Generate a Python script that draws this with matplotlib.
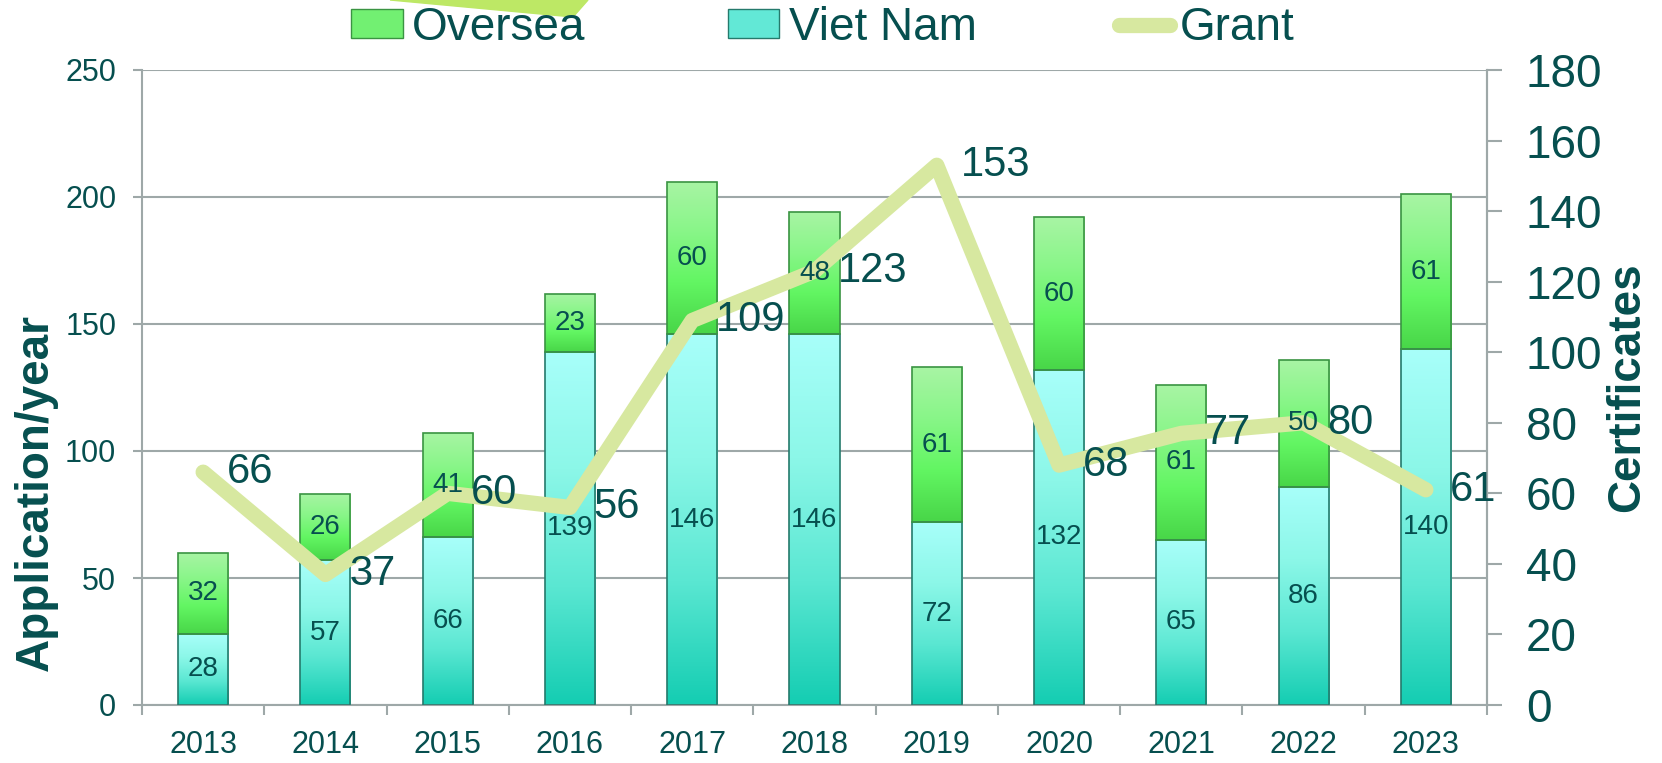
import numpy as np
import matplotlib
matplotlib.use('Agg')
import matplotlib.pyplot as plt
from matplotlib.colors import LinearSegmentedColormap
from matplotlib.patches import Patch, Polygon
from matplotlib.lines import Line2D

years = ['2013', '2014', '2015', '2016', '2017', '2018', '2019', '2020', '2021', '2022', '2023']
viet_nam = [28, 57, 66, 139, 146, 146, 72, 132, 65, 86, 140]
oversea = [32, 26, 41, 23, 60, 48, 61, 60, 61, 50, 61]
grant = [66, 37, 60, 56, 109, 123, 153, 68, 77, 80, 61]

text_color = '#064f4f'
grid_color = '#9ea8a8'
line_color = '#d7e8a0'

plt.rcParams['font.family'] = ['Liberation Sans', 'DejaVu Sans']

fig = plt.figure(figsize=(16.62, 7.63), dpi=100)

# decorative wedge at the top (slide artwork)
fig.patches.append(Polygon([(390 / 1662, 1.0), (573 / 1662, 1 - 17 / 763), (588 / 1662, 1.0)],
                           closed=True, transform=fig.transFigure, color='#bde865', zorder=0))

ax = fig.add_axes([142 / 1662, 1 - 705 / 763, 1345 / 1662, 635 / 763])
x = np.arange(len(years))
width = 0.41

vn_cmap = LinearSegmentedColormap.from_list('vn', ['#14cdb2', '#5ae7d2', '#8cf7e8', '#a8fffa'])
os_cmap = LinearSegmentedColormap.from_list('os', ['#48d648', '#62f562', '#88f688', '#a8f4a4'])

bars_vn = ax.bar(x, viet_nam, width=width, facecolor='none', edgecolor='#257a6c',
                 linewidth=1.2, zorder=3)
bars_os = ax.bar(x, oversea, width=width, bottom=viet_nam, facecolor='none',
                 edgecolor='#3a9442', linewidth=1.2, zorder=3)


def fill_gradient(axes, bars, cmap):
    grad = np.linspace(0, 1, 256).reshape(-1, 1)
    for b in bars:
        x0, y0 = b.get_x(), b.get_y()
        im = axes.imshow(grad, cmap=cmap, origin='lower', aspect='auto',
                         extent=[x0, x0 + b.get_width(), y0, y0 + b.get_height()],
                         zorder=2.5, interpolation='bicubic')
        im.set_clip_path(b)


fill_gradient(ax, bars_vn, vn_cmap)
fill_gradient(ax, bars_os, os_cmap)

ax.set_xlim(-0.5, len(years) - 0.5)
ax.set_ylim(0, 250)
ax.set_yticks(range(0, 251, 50))
ax.set_axisbelow(True)
ax.yaxis.grid(True, color=grid_color, linewidth=1.5)

ax.set_xticks(x)
ax.set_xticklabels(years)
ax.set_xticks(np.arange(-0.5, len(years), 1), minor=True)
ax.tick_params(axis='x', which='major', length=0, pad=18, labelsize=22, labelcolor=text_color)
ax.tick_params(axis='x', which='minor', length=7, width=1.5, color=grid_color)
ax.tick_params(axis='y', length=6.5, width=1.5, color=grid_color, pad=12,
               labelsize=22, labelcolor=text_color)

for side in ['left', 'right', 'bottom']:
    ax.spines[side].set_color(grid_color)
    ax.spines[side].set_linewidth(1.5)
ax.spines['top'].set_visible(False)

ax.set_ylabel('Application/year', fontsize=33, fontweight='bold', color=text_color)
ax.yaxis.set_label_coords(-0.079, 0.334)
ax.yaxis.label.set_va('center')

# right axis: granted certificates
ax2 = ax.twinx()
ax2.plot(x, grant, color=line_color, linewidth=11, solid_capstyle='round',
         solid_joinstyle='round', zorder=3)
ax2.set_ylim(0, 180)
ax2.set_yticks(range(0, 181, 20))
ax2.tick_params(axis='y', length=11, width=1.5, color=grid_color, pad=17,
                labelsize=33, labelcolor=text_color)
for side in ['left', 'top', 'bottom']:
    ax2.spines[side].set_visible(False)
ax2.spines['right'].set_color(grid_color)
ax2.spines['right'].set_linewidth(1.5)
ax2.set_ylabel('Certificates', fontsize=33, fontweight='bold', color=text_color)
ax2.yaxis.set_label_coords(1.104, 0.5)
ax2.yaxis.label.set_va('center')

for xi, v in zip(x, grant):
    ax2.annotate(str(v), (xi, v), xytext=(17, 0), textcoords='offset points',
                 ha='left', va='center', fontsize=30, color=text_color, zorder=5)

# bar value labels, drawn on the top axes so they sit above the line
for xi, vn, ov in zip(x, viet_nam, oversea):
    ax2.text(xi, vn / 2, str(vn), transform=ax.transData, ha='center', va='center',
             fontsize=20, color=text_color, zorder=6)
    ax2.text(xi, vn + ov / 2, str(ov), transform=ax.transData, ha='center', va='center',
             fontsize=20, color=text_color, zorder=6)

handles = [Patch(facecolor='#72f072', edgecolor='#3a9442'),
           Patch(facecolor='#62e8d6', edgecolor='#257a6c'),
           Line2D([0], [0], color=line_color, linewidth=11, solid_capstyle='round')]
fig.legend(handles, ['Oversea', 'Viet Nam', 'Grant'], loc='center',
           bbox_to_anchor=(0.495, 1 - 28 / 763), ncol=3, frameon=False, fontsize=33,
           labelcolor=text_color, handlelength=1.13, handleheight=0.6,
           handletextpad=0.2, columnspacing=3.1)

fig.savefig('out.png', dpi=100)
